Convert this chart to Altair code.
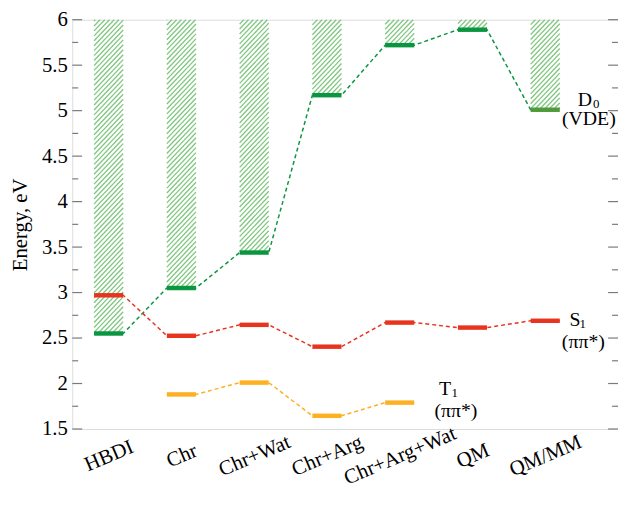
import json
import altair as alt
import numpy as np
import pandas as pd

# ---------------- data ----------------
categories = ["HBDI", "Chr", "Chr+Wat", "Chr+Arg", "Chr+Arg+Wat", "QM", "QM/MM"]
d0_values = [2.55, 3.05, 3.44, 5.17, 5.72, 5.89, 5.01]
s1_values = [2.97, 2.525, 2.645, 2.405, 2.67, 2.615, 2.69]
t1_values = [None, 1.88, 2.01, 1.645, 1.79, None, None]
y_major = [1.5, 2, 2.5, 3, 3.5, 4, 4.5, 5, 5.5, 6]
y_minor = [1.75, 2.25, 2.75, 3.25, 3.75, 4.25, 4.75, 5.25, 5.75]

label_text = ["D", "0", "(VDE)", "S", "1", "(ππ*)", "T", "1", "(ππ*)"]
label_x = [7.545, 7.70, 7.599, 7.409, 7.515, 7.524, 5.622, 5.755, 5.772]
label_y = [5.114, 5.070, 4.908, 2.696, 2.657, 2.457, 1.935, 1.896, 1.696]
label_size = [20, 13, 20, 20, 13, 20, 20, 13, 20]

# ---------------- layout / style ----------------
W, H = 552, 414
X_DOM = [0.5, 8.0]
Y_DOM = [1.5, 6.0]
HALF = 0.2
FONT = "'Liberation Serif', 'Times New Roman', 'DejaVu Serif', serif"
FRAME = "#7a7a7a"
GREEN = "#0a9640"
GREEN2 = "#4f9a3a"
HATCH = "#80c680"
RED = "#e8341f"
ORANGE = "#fdb022"

px_x = W / (X_DOM[1] - X_DOM[0])
px_y = H / (Y_DOM[1] - Y_DOM[0])

xs = list(range(1, len(categories) + 1))

# level bars and connecting dashed lines
level_rows, line_rows = [], []
for name, vals, col in [("D0", d0_values, GREEN), ("S1", s1_values, RED), ("T1", t1_values, ORANGE)]:
    for xi, v in zip(xs, vals):
        if v is None:
            continue
        c = GREEN2 if (name == "D0" and xi == len(categories)) else col
        level_rows.append({"series": name, "x": xi - HALF, "x2": xi + HALF, "y": v, "col": c})
        line_rows.append({"series": name, "x": xi - HALF, "y": v})
        line_rows.append({"series": name, "x": xi + HALF, "y": v})
levels = pd.DataFrame(level_rows)
lines = pd.DataFrame(line_rows)

# hatch pattern above each D0 level (diagonal strokes)
step = 5.0
slope = 1.05
hatch_rows = []
for xi, d in zip(xs, d0_values):
    w = 2 * HALF * px_x
    h = (Y_DOM[1] - d) * px_y
    for c in np.arange(-slope * w + 2, h, step):
        u0 = max(0.0, -c / slope)
        u1 = min(w, (h - c) / slope)
        if u1 <= u0:
            continue
        hatch_rows.append({
            "x": xi - HALF + u0 / px_x, "x2": xi - HALF + u1 / px_x,
            "y": d + (slope * u0 + c) / px_y, "y2": d + (slope * u1 + c) / px_y,
        })
hatch = pd.DataFrame(hatch_rows)

labels = pd.DataFrame({"x": label_x, "y": label_y, "t": label_text, "fs": label_size})
ticks = pd.DataFrame({"y": y_major + y_minor, "len": [10] * len(y_major) + [6] * len(y_minor)})

label_expr = json.dumps(categories) + "[datum.value - 1]"

xscale = alt.Scale(domain=X_DOM, nice=False, zero=False)
yscale = alt.Scale(domain=Y_DOM, nice=False, zero=False)

xaxis = alt.Axis(values=xs, labelExpr=label_expr, labelAngle=337, labelAlign="center",
                 labelBaseline="middle", labelPadding=27, ticks=False, tickSize=0,
                 domain=False, grid=False, title=None, labelFont=FONT, labelFontSize=21,
                 labelColor="black", labelOverlap=False, labelBound=False, labelFlush=False)
yaxis = alt.Axis(values=y_major, format=".1~f", ticks=False, tickSize=0, domain=False,
                 grid=False, title="Energy, eV", titleFont=FONT, titleFontSize=21,
                 titleFontWeight="normal", titleColor="black", titlePadding=11,
                 labelFont=FONT, labelFontSize=21, labelColor="black", labelPadding=5)

hatch_layer = alt.Chart(hatch).mark_rule(color=HATCH, strokeWidth=1.3).encode(
    x=alt.X("x:Q", scale=xscale, axis=xaxis),
    x2="x2:Q",
    y=alt.Y("y:Q", scale=yscale, axis=yaxis),
    y2="y2:Q",
)

line_layer = alt.Chart(lines).mark_line(strokeDash=[4, 3], strokeWidth=1.5).encode(
    x=alt.X("x:Q", scale=xscale),
    y=alt.Y("y:Q", scale=yscale),
    color=alt.Color("series:N", scale=alt.Scale(domain=["D0", "S1", "T1"], range=[GREEN, RED, ORANGE]), legend=None),
    detail="series:N",
    order="x:Q",
)

level_layer = alt.Chart(levels).mark_rule(strokeWidth=4.5).encode(
    x=alt.X("x:Q", scale=xscale),
    x2="x2:Q",
    y=alt.Y("y:Q", scale=yscale),
    color=alt.Color("col:N", scale=None),
)

text_layer = alt.Chart(labels).mark_text(font=FONT, align="center", baseline="middle", color="black").encode(
    x=alt.X("x:Q", scale=xscale),
    y=alt.Y("y:Q", scale=yscale),
    text="t:N",
    size=alt.Size("fs:Q", scale=None),
)

tick_layers = []
for length in (10, 6):
    sub = ticks[ticks["len"] == length]
    tick_layers.append(alt.Chart(sub).mark_rule(color=FRAME, strokeWidth=1.2).encode(
        x=alt.value(0), x2=alt.value(length), y=alt.Y("y:Q", scale=yscale)))
    tick_layers.append(alt.Chart(sub).mark_rule(color=FRAME, strokeWidth=1.2).encode(
        x=alt.value(W), x2=alt.value(W - length), y=alt.Y("y:Q", scale=yscale)))

chart = alt.layer(hatch_layer, line_layer, level_layer, text_layer, *tick_layers).properties(
    width=W, height=H,
    autosize=alt.AutoSizeParams(type="none"),
    padding={"left": 65, "top": 9, "right": 0, "bottom": 70},
    background="white",
).configure_view(stroke=FRAME, strokeWidth=1.5).configure(font=FONT)

chart.save("out.html", embed_options={"renderer": "svg", "actions": False})
